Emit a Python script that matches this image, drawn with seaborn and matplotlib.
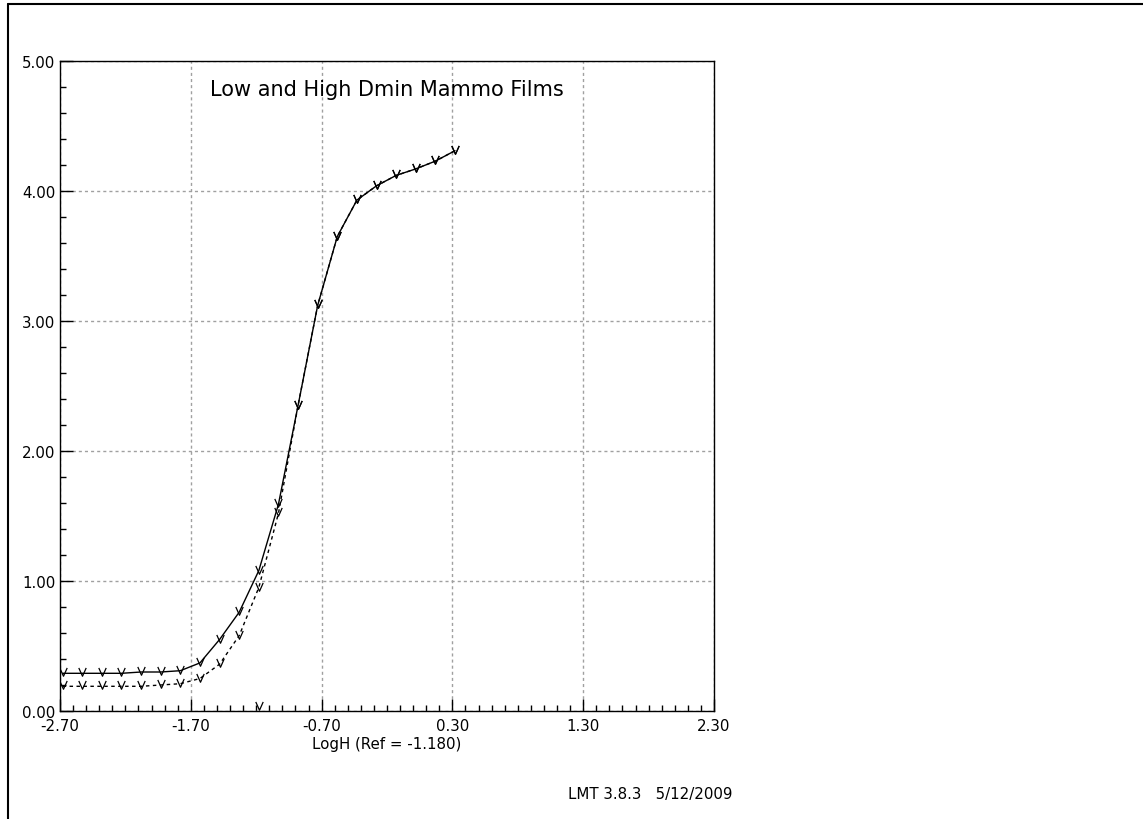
import numpy as np
import pandas as pd
import matplotlib
matplotlib.use("Agg")
import matplotlib.pyplot as plt
import seaborn as sns
from matplotlib.path import Path
from matplotlib.ticker import FixedLocator, MultipleLocator, FormatStrFormatter
from matplotlib.lines import Line2D

# step wedge exposures (LogH) and measured densities
logh = [-2.68, -2.53, -2.38, -2.23, -2.08, -1.93, -1.78, -1.63, -1.48, -1.33, -1.18,
        -1.03, -0.88, -0.73, -0.58, -0.43, -0.28, -0.13, 0.02, 0.17, 0.32]
high_dmin = [0.29, 0.29, 0.29, 0.29, 0.30, 0.30, 0.31, 0.37, 0.55, 0.76, 1.08,
             1.59, 2.35, 3.12, 3.65, 3.93, 4.04, 4.12, 4.17, 4.23, 4.31]
low_dmin = [0.19, 0.19, 0.19, 0.19, 0.19, 0.20, 0.21, 0.25, 0.36, 0.58, 0.95,
            1.52, 2.35, 3.12, 3.65, 3.93, 4.04, 4.12, 4.17, 4.23, 4.31]
ref_logh = -1.18
ref_mark_y = 0.03

x_major = [-2.70, -1.70, -0.70, 0.30, 1.30, 2.30]
y_major = [0.0, 1.0, 2.0, 3.0, 4.0, 5.0]

df = pd.DataFrame({"logh": logh, "high": high_dmin, "low": low_dmin})

sns.set_style("white")
plt.rcParams["font.family"] = ["DejaVu Sans"]
plt.rcParams["text.color"] = "black"
plt.rcParams["axes.labelcolor"] = "black"
plt.rcParams["xtick.color"] = "black"
plt.rcParams["ytick.color"] = "black"

# open "V" marker like the LMT plots
vmark = Path([(-0.4, 0.6), (0.0, -0.3), (0.4, 0.6)],
             [Path.MOVETO, Path.LINETO, Path.LINETO])

fig = plt.figure(figsize=(11.43, 8.2), dpi=100)
ax = fig.add_axes([60 / 1143, 1 - 712 / 820, 654 / 1143, 650 / 820])

sns.lineplot(data=df, x="logh", y="high", ax=ax, color="black", lw=1.0,
             marker=vmark, ms=8, mfc="none", mec="black", mew=0.9, errorbar=None)
sns.lineplot(data=df, x="logh", y="low", ax=ax, color="black", lw=1.0,
             ls=(0, (2.5, 2.5)), marker=vmark, ms=8, mfc="none", mec="black",
             mew=0.9, errorbar=None)
ax.plot([ref_logh], [ref_mark_y], marker=vmark, ms=8, mfc="none", mec="black",
        mew=0.9, ls="none")

ax.set_xlim(-2.70, 2.30)
ax.set_ylim(0, 5)
ax.xaxis.set_major_locator(FixedLocator(x_major))
ax.xaxis.set_minor_locator(MultipleLocator(0.1))
ax.yaxis.set_major_locator(FixedLocator(y_major))
ax.yaxis.set_minor_locator(MultipleLocator(0.2))
ax.xaxis.set_major_formatter(FormatStrFormatter("%.2f"))
ax.yaxis.set_major_formatter(FormatStrFormatter("%.2f"))

ax.tick_params(which="both", direction="in", color="black", labelcolor="black",
               labelsize=10.8, left=True, bottom=True, top=False, right=False)
ax.tick_params(which="major", length=9, width=1)
ax.tick_params(axis="y", which="major", pad=3.5)
ax.tick_params(axis="x", which="major", pad=5)
ax.tick_params(which="minor", length=4, width=1)

ax.grid(True, which="major", color="#a0a0a0", ls=(0, (2.2, 2.2)), lw=1)
for s in ax.spines.values():
    s.set_color("black")
    s.set_linewidth(1)

ax.set_xlabel("LogH (Ref = -1.180)", fontsize=10.8, labelpad=2, color="black")
ax.set_ylabel("")
ax.text(0.5, 0.957, "Low and High Dmin Mammo Films", transform=ax.transAxes,
        ha="center", va="center", fontsize=15, color="black")

fig.text(568 / 1143, 1 - 795 / 820, "LMT 3.8.3   5/12/2009", fontsize=10.8,
         ha="left", va="center", color="black")

# outer frame (top and left edges)
fig.add_artist(Line2D([8 / 1143, 1.0], [1 - 5 / 820, 1 - 5 / 820],
                      transform=fig.transFigure, color="black", lw=1.5))
fig.add_artist(Line2D([8 / 1143, 8 / 1143], [0.0, 1 - 5 / 820],
                      transform=fig.transFigure, color="black", lw=1.5))

fig.savefig("out.png", dpi=100, facecolor="white")
